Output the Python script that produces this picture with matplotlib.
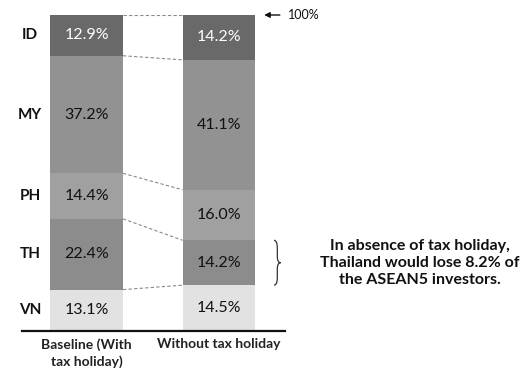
import numpy as np
import matplotlib
matplotlib.use("Agg")
import matplotlib.pyplot as plt
from matplotlib.path import Path
from matplotlib.patches import PathPatch

plt.rcParams['font.family'] = ['Lato', 'DejaVu Sans']

# investor shares by country, stacked from the bottom up
countries = ["VN", "TH", "PH", "MY", "ID"]
baseline = [13.1, 22.4, 14.4, 37.2, 12.9]
without = [14.5, 14.2, 16.0, 41.1, 14.2]
scenarios = ["Baseline (With\ntax holiday)", "Without tax holiday"]
seg_colors = ["#e2e2e2", "#8c8c8c", "#a0a0a0", "#929292", "#696969"]
text_colors = ["#111111", "#111111", "#111111", "#111111", "#ffffff"]
note = "In absence of tax holiday,\nThailand would lose 8.2% of\nthe ASEAN5 investors."

fig = plt.figure(figsize=(5.28, 3.74), dpi=100)
ax = fig.add_axes([22 / 528, 43 / 374, 263 / 528, 316 / 374])

xpos = np.array([0, 1])
width = 0.55
series = [baseline, without]

bottoms = [0.0, 0.0]
tops = [[100.0], [100.0]]
for i in range(len(countries)):
    for j, vals in enumerate(series):
        ax.bar(xpos[j], vals[i], width=width, bottom=bottoms[j],
               color=seg_colors[i], edgecolor="none")
        ax.text(xpos[j], bottoms[j] + vals[i] / 2, f"{vals[i]:.1f}%",
                ha="center", va="center", fontsize=11.5,
                color=text_colors[i])
    # country name next to the baseline bar
    ax.text(-0.425, bottoms[0] + baseline[i] / 2, countries[i],
            ha="center", va="center", fontsize=11, fontweight="bold",
            color="#111111")
    bottoms = [bottoms[0] + baseline[i], bottoms[1] + without[i]]
    if i < len(countries) - 1:
        tops[0].append(bottoms[0])
        tops[1].append(bottoms[1])

# dashed connectors between matching segment boundaries
for y0, y1 in zip(tops[0], tops[1]):
    ax.plot([xpos[0] + width / 2, xpos[1] - width / 2], [y0, y1],
            ls=(0, (3, 2)), lw=0.8, color="#8a8a8a")

# brace next to the Thailand segment of the second bar
th_lo = without[0]
th_hi = without[0] + without[1]
mid = (th_lo + th_hi) / 2
bx, bw = 1.415, 0.05
codes = [Path.MOVETO, Path.CURVE3, Path.CURVE3, Path.LINETO,
         Path.CURVE3, Path.CURVE3, Path.MOVETO,
         Path.CURVE3, Path.CURVE3, Path.LINETO, Path.CURVE3, Path.CURVE3]
verts = [(bx, th_hi), (bx + bw * 0.5, th_hi), (bx + bw * 0.5, th_hi - 2.5),
         (bx + bw * 0.5, mid + 2.0), (bx + bw * 0.5, mid), (bx + bw, mid),
         (bx + bw, mid), (bx + bw * 0.5, mid), (bx + bw * 0.5, mid - 2.0),
         (bx + bw * 0.5, th_lo + 2.5), (bx + bw * 0.5, th_lo), (bx, th_lo)]
ax.add_patch(PathPatch(Path(verts, codes), fill=False, lw=0.9,
                       edgecolor="#333333", clip_on=False))

fig.text(420 / 528, 1 - 263 / 374, note, ha="center", va="center",
         fontsize=11.5, fontweight="bold", color="#111111", linespacing=1.3)

# 100% marker
ax.annotate("", xy=(1.32, 100), xytext=(1.48, 100),
            arrowprops=dict(arrowstyle="-|>", lw=1.0, color="#111111",
                            mutation_scale=8),
            annotation_clip=False)
ax.text(1.52, 100, "100%", ha="left", va="center", fontsize=9,
        color="#111111", clip_on=False)

ax.set_xlim(-0.487, 1.498)
ax.set_ylim(0, 100)
ax.set_xticks(xpos)
ax.set_xticklabels(scenarios, fontsize=10, fontweight="bold",
                   color="#222222", linespacing=1.45)
ax.tick_params(axis="x", length=0, pad=5)
ax.set_yticks([])
for s in ["top", "right", "left"]:
    ax.spines[s].set_visible(False)
ax.spines["bottom"].set_linewidth(1.6)
ax.spines["bottom"].set_color("#111111")

fig.savefig("out.png", dpi=100)
